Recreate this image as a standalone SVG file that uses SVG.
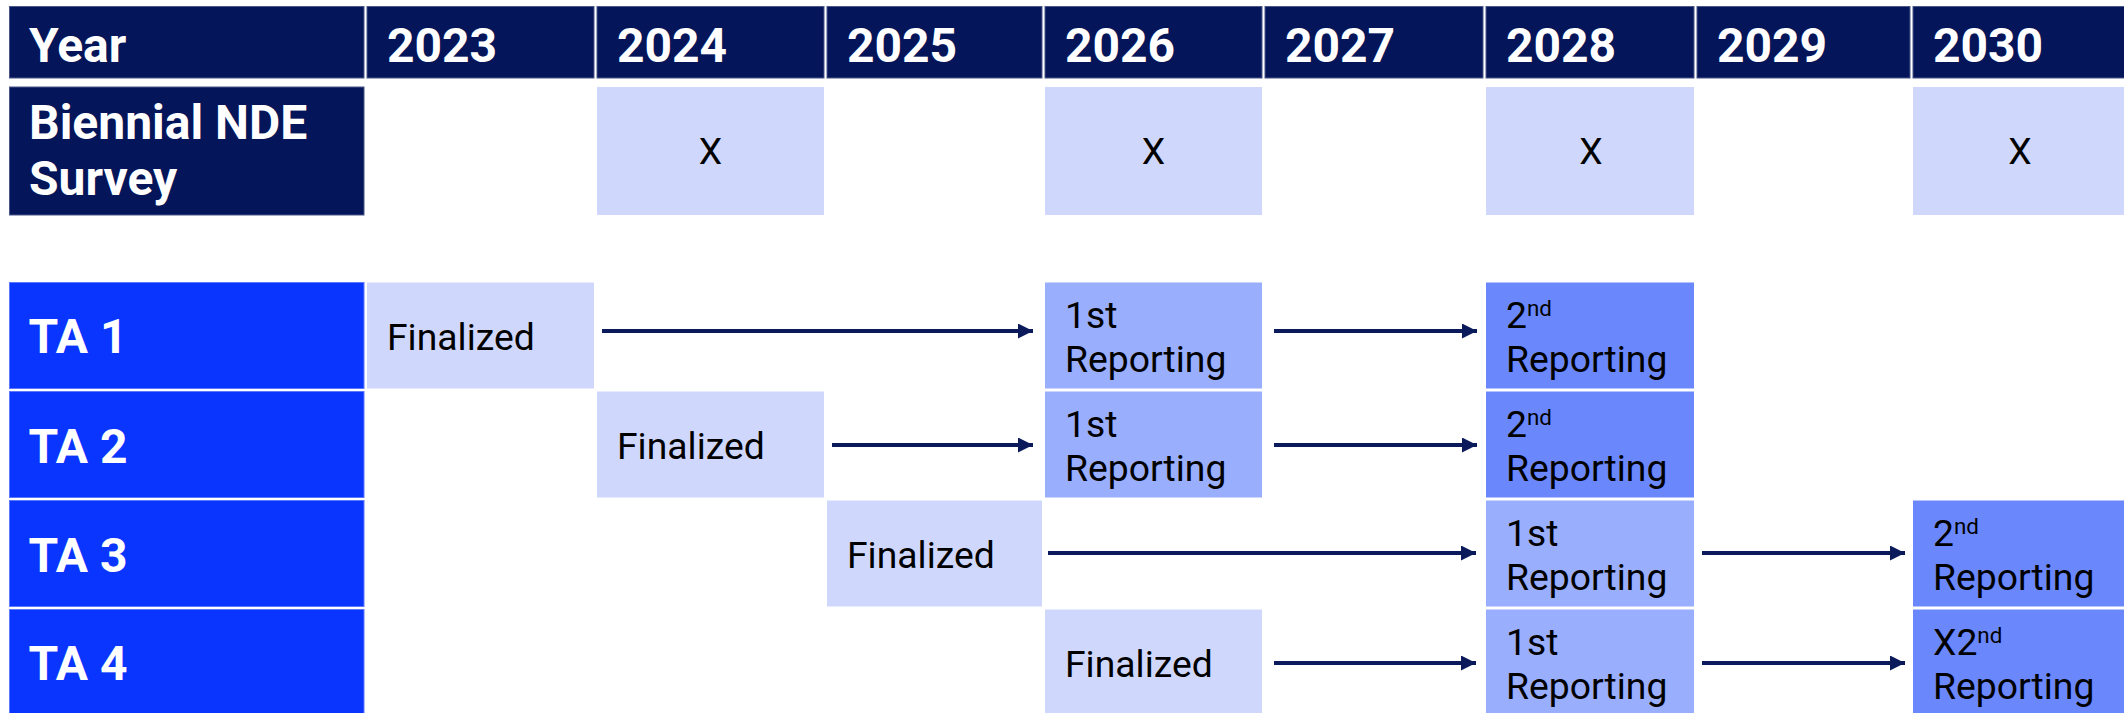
<svg xmlns="http://www.w3.org/2000/svg" width="2124" height="713" viewBox="0 0 2124 713">
<defs>
<style>
.navy{fill:#04155a;stroke:#4a5789;stroke-width:1}
.ta{fill:#0a35ff;stroke:#5b78ff;stroke-width:1}
.l1{fill:#cfd8fc}
.l2{fill:#99aefc}
.l3{fill:#6a88fc}
.hd{font-family:Roboto,"Liberation Sans",sans-serif;font-weight:bold;font-size:48px;fill:#ffffff}
.bd{font-family:Roboto,"Liberation Sans",sans-serif;font-size:37.3px;fill:#000000}
.sup{font-size:22.4px}
.arr{stroke:#0a1a5a;stroke-width:4;fill:none;marker-end:url(#ah)}
</style>
<marker id="ah" markerUnits="userSpaceOnUse" markerWidth="16" markerHeight="16" refX="15" refY="7.5" orient="auto">
<path d="M0,0 L15,7.5 L0,15 z" fill="#0a1a5a"/>
</marker>
</defs>
<rect width="2124" height="713" fill="#ffffff"/>

<g id="header">
<rect class="navy" x="9.5" y="6.5" width="354.5" height="71.5"/>
<rect class="navy" x="367" y="6.5" width="227" height="71.5"/>
<rect class="navy" x="597" y="6.5" width="227" height="71.5"/>
<rect class="navy" x="827" y="6.5" width="215" height="71.5"/>
<rect class="navy" x="1045" y="6.5" width="217" height="71.5"/>
<rect class="navy" x="1265" y="6.5" width="218" height="71.5"/>
<rect class="navy" x="1486" y="6.5" width="208" height="71.5"/>
<rect class="navy" x="1697" y="6.5" width="213" height="71.5"/>
<rect class="navy" x="1913" y="6.5" width="220" height="71.5"/>
<text class="hd" x="29" y="61.5">Year</text>
<text class="hd" x="387" y="61.5">2023</text>
<text class="hd" x="617" y="61.5">2024</text>
<text class="hd" x="847" y="61.5">2025</text>
<text class="hd" x="1065" y="61.5">2026</text>
<text class="hd" x="1285" y="61.5">2027</text>
<text class="hd" x="1506" y="61.5">2028</text>
<text class="hd" x="1717" y="61.5">2029</text>
<text class="hd" x="1933" y="61.5">2030</text>
</g>

<g id="nde-survey">
<rect class="navy" x="9.5" y="87" width="354.5" height="128"/>
<text class="hd" x="29" y="138.5">Biennial NDE</text>
<text class="hd" x="29" y="194.5">Survey</text>
<rect class="l1" x="597" y="87" width="227" height="128"/>
<rect class="l1" x="1045" y="87" width="217" height="128"/>
<rect class="l1" x="1486" y="87" width="208" height="128"/>
<rect class="l1" x="1913" y="87" width="220" height="128"/>
<text class="bd" x="710.5" y="164" text-anchor="middle">X</text>
<text class="bd" x="1153.5" y="164" text-anchor="middle">X</text>
<text class="bd" x="1591" y="164" text-anchor="middle">X</text>
<text class="bd" x="2020" y="164" text-anchor="middle">X</text>
</g>

<g id="ta1">
<rect class="ta" x="9.5" y="282.5" width="354.5" height="106"/>
<text class="hd" x="28.5" y="353">TA 1</text>
<rect class="l1" x="367" y="282.5" width="227" height="106"/>
<text class="bd" x="387" y="350">Finalized</text>
<rect class="l2" x="1045" y="282.5" width="217" height="106"/>
<text class="bd" x="1065" y="328">1st</text>
<text class="bd" x="1065" y="372">Reporting</text>
<rect class="l3" x="1486" y="282.5" width="208" height="106"/>
<text class="bd" x="1506" y="328">2<tspan class="sup" dy="-12">nd</tspan></text>
<text class="bd" x="1506" y="372">Reporting</text>
</g>

<g id="ta2">
<rect class="ta" x="9.5" y="391.5" width="354.5" height="106"/>
<text class="hd" x="28.5" y="463">TA 2</text>
<rect class="l1" x="597" y="391.5" width="227" height="106"/>
<text class="bd" x="617" y="459">Finalized</text>
<rect class="l2" x="1045" y="391.5" width="217" height="106"/>
<text class="bd" x="1065" y="437">1st</text>
<text class="bd" x="1065" y="481">Reporting</text>
<rect class="l3" x="1486" y="391.5" width="208" height="106"/>
<text class="bd" x="1506" y="437">2<tspan class="sup" dy="-12">nd</tspan></text>
<text class="bd" x="1506" y="481">Reporting</text>
</g>

<g id="ta3">
<rect class="ta" x="9.5" y="500.5" width="354.5" height="106"/>
<text class="hd" x="28.5" y="572">TA 3</text>
<rect class="l1" x="827" y="500.5" width="215" height="106"/>
<text class="bd" x="847" y="567.5">Finalized</text>
<rect class="l2" x="1486" y="500.5" width="208" height="106"/>
<text class="bd" x="1506" y="546">1st</text>
<text class="bd" x="1506" y="590">Reporting</text>
<rect class="l3" x="1913" y="500.5" width="220" height="106"/>
<text class="bd" x="1933" y="546">2<tspan class="sup" dy="-12">nd</tspan></text>
<text class="bd" x="1933" y="590">Reporting</text>
</g>

<g id="ta4">
<rect class="ta" x="9.5" y="609.5" width="354.5" height="110"/>
<text class="hd" x="28.5" y="680">TA 4</text>
<rect class="l1" x="1045" y="609.5" width="217" height="110"/>
<text class="bd" x="1065" y="676.5">Finalized</text>
<rect class="l2" x="1486" y="609.5" width="208" height="110"/>
<text class="bd" x="1506" y="655">1st</text>
<text class="bd" x="1506" y="699">Reporting</text>
<rect class="l3" x="1913" y="609.5" width="220" height="110"/>
<text class="bd" x="1933" y="655">X2<tspan class="sup" dy="-12">nd</tspan></text>
<text class="bd" x="1933" y="699">Reporting</text>
</g>

<g id="connectors">
<line class="arr" x1="602" y1="331" x2="1033" y2="331"/>
<line class="arr" x1="1274" y1="331" x2="1477" y2="331"/>
<line class="arr" x1="832" y1="445" x2="1033" y2="445"/>
<line class="arr" x1="1274" y1="445" x2="1477" y2="445"/>
<line class="arr" x1="1048" y1="553" x2="1476" y2="553"/>
<line class="arr" x1="1702" y1="553" x2="1905" y2="553"/>
<line class="arr" x1="1274" y1="663" x2="1476" y2="663"/>
<line class="arr" x1="1702" y1="663" x2="1905" y2="663"/>
</g>
</svg>
